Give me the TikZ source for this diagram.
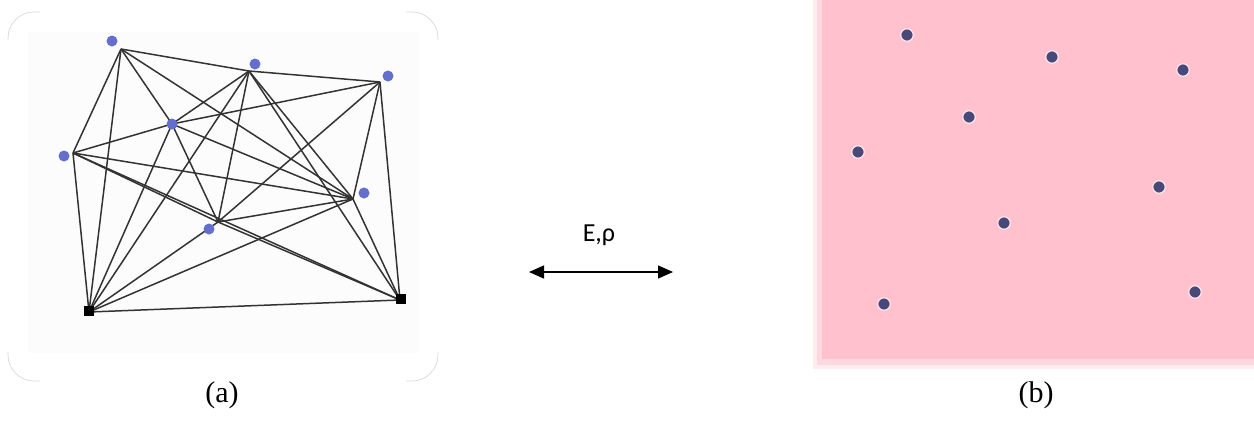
\documentclass[tikz,border=0pt]{standalone}
\usepackage{fontspec}
\setmainfont{Liberation Serif}
\newfontfamily\calib{Carlito}
\usetikzlibrary{arrows.meta}
\definecolor{pinkc}{RGB}{255,193,206}
\definecolor{bluedot}{RGB}{100,110,205}
\definecolor{pdotc}{RGB}{72,72,122}
\begin{document}
\begin{tikzpicture}[x=1pt,y=-1pt,
  edge/.style={draw=black!80,line width=1.5pt},
  bdot/.style={circle,fill=bluedot,inner sep=0pt,minimum size=11pt},
  kdot/.style={rectangle,fill=black,inner sep=0pt,minimum size=10pt},
  pdot/.style={circle,fill=pdotc,draw=white!60!pinkc,line width=1.2pt,inner sep=0pt,minimum size=12.5pt},
  frame/.style={draw=black!15,line width=0.7pt,rounded corners=26pt},
  capt/.style={font=\fontsize{30}{34}\selectfont}]
\useasboundingbox (0,0) rectangle (1254,421);
% ---- panel (a) frame (corners only)
\fill[black!1] (28,32) rectangle (418,353);
\draw[frame] (8,40) -- (8,12) -- (40,12);
\draw[frame] (406,12) -- (438,12) -- (438,40);
\draw[frame] (8,352) -- (8,381) -- (40,381);
\draw[frame] (406,381) -- (438,381) -- (438,352);
% ---- graph junctions
\coordinate (A) at (121,49);
\coordinate (B) at (249,71);
\coordinate (C) at (380,82);
\coordinate (D) at (172,124);
\coordinate (E) at (73,153);
\coordinate (F) at (353,199);
\coordinate (G) at (218,222);
\coordinate (H) at (89,312);
\coordinate (I) at (400,300);
% ---- edges
\foreach \u/\v in {A/B,A/E,A/H,A/D,A/F,
                   B/C,B/D,B/H,B/G,B/F,B/I,
                   C/I,C/F,C/D,C/G,
                   D/E,D/H,D/G,D/F,
                   E/H,E/F,E/I,E/G,
                   F/I,F/G,F/H,
                   G/H,G/I,H/I}
  \draw[edge] (\u) -- (\v);
% ---- dots
\node[bdot] (Ad) at (112,41) {};
\node[bdot] (Bd) at (255,64) {};
\node[bdot] (Cd) at (388,76) {};
\node[bdot] (Dd) at (172,124) {};
\node[bdot] (Ed) at (64,156) {};
\node[bdot] (Fd) at (364,193) {};
\node[bdot] (Gd) at (209,229) {};
\node[kdot] (Hd) at (89,311) {};
\node[kdot] (Id) at (401,299) {};
% ---- arrow and label
\coordinate (L) at (529,272);
\coordinate (R) at (673,272);
\draw[line width=1.5pt,{Triangle[length=15pt,width=13pt]}-{Triangle[length=15pt,width=13pt]}] (L) -- (R);
\node[font=\calib\fontsize{26}{30}\selectfont] (lab) at (599,235) {E,ρ};
% ---- panel (b)
\fill[pinkc,opacity=0.3] (813,0) rectangle (1254,369);
\fill[pinkc,opacity=0.5] (817,0) rectangle (1254,365);
\fill[pinkc] (822,0) rectangle (1254,359);
\node[pdot] (p1) at (907,35) {};
\node[pdot] (p2) at (1052,57) {};
\node[pdot] (p3) at (1183,70) {};
\node[pdot] (p4) at (969,117) {};
\node[pdot] (p5) at (858,152) {};
\node[pdot] (p6) at (1159,187) {};
\node[pdot] (p7) at (1004,223) {};
\node[pdot] (p8) at (884,304) {};
\node[pdot] (p9) at (1195,292) {};
% ---- captions
\node[capt] (capa) at (222,395) {(a)};
\node[capt] (capb) at (1036,395) {(b)};
\end{tikzpicture}
\end{document}
